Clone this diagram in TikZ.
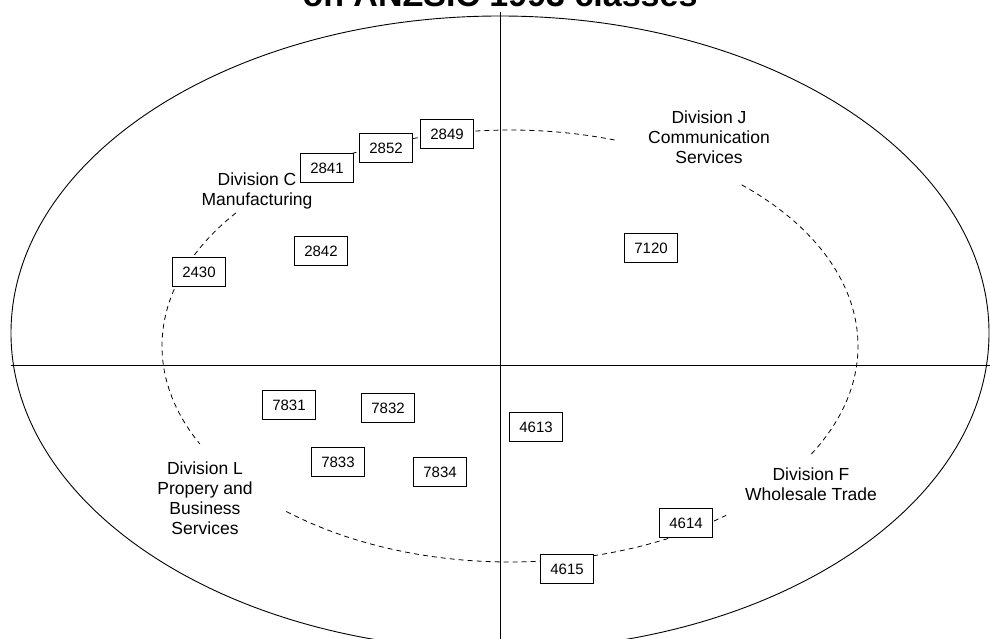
\documentclass[tikz,border=0pt]{standalone}
\usepackage{fontspec}
\setmainfont{Liberation Sans}
\usepackage{tkz-euclide}
\usetikzlibrary{calc}
\tikzset{
  code/.style={draw,fill=white,line width=.9pt,minimum width=53pt,minimum height=29pt,inner sep=0pt,font=\fontsize{15}{18}\selectfont},
  division/.style={align=center,font=\fontsize{17.5}{20}\selectfont},
  track/.style={dash pattern=on 5pt off 4pt,line width=.8pt}
}
\begin{document}
\begin{tikzpicture}[x=1pt,y=-1pt]
            \useasboundingbox (0,0) rectangle (990,639);
            \clip (0,0) rectangle (990,639);
            \tkzDefPoints{500/7/T,500/333/O,510/346/M,11/365/W,990/365/E,500/12/N,500/645/S}
            \tkzDefPoints{199/272/C1,321/251/C2,327/168/C3,386/148/C4,447/134/C5,651/248/J1}
            \tkzDefPoints{289/405/L1,388/408/L2,338/462/L3,440/472/L4,536/427/F1,686/523/F2,567/569/F3}
            \tkzDefPoints{257/191/DC,709/137/DJ,811/484/DF,205/498/DL}
            \node[anchor=base,font=\fontsize{34}{40}\bfseries] (title) at (T) {on ANZSIC 1993 classes};
            \draw[line width=.9pt] (O) ellipse[x radius=489,y radius=317];
            \draw[line width=.9pt] (W) -- (E);
            \draw[line width=.9pt] (N) -- (S);
            \draw[track] ($(M)+(-72.5:348 and 216)$) arc[start angle=-72.5,end angle=-122,x radius=348,y radius=216];
            \draw[track] ($(M)+(-142:348 and 216)$) arc[start angle=-142,end angle=-207,x radius=348,y radius=216];
            \draw[track] ($(M)+(-230:348 and 216)$) arc[start angle=-230,end angle=-308.4,x radius=348,y radius=216];
            \draw[track] ($(M)+(-330:348 and 216)$) arc[start angle=-330,end angle=-408.9,x radius=348,y radius=216];
            \node[code] (c2430) at (C1) {2430};
            \node[code] (c2842) at (C2) {2842};
            \node[code] (c2841) at (C3) {2841};
            \node[code] (c2852) at (C4) {2852};
            \node[code] (c2849) at (C5) {2849};
            \node[code] (j7120) at (J1) {7120};
            \node[code] (l7831) at (L1) {7831};
            \node[code] (l7832) at (L2) {7832};
            \node[code] (l7833) at (L3) {7833};
            \node[code] (l7834) at (L4) {7834};
            \node[code] (f4613) at (F1) {4613};
            \node[code] (f4614) at (F2) {4614};
            \node[code] (f4615) at (F3) {4615};
            \node[division] (divC) at (DC) {Division C\\Manufacturing};
            \node[division] (divJ) at (DJ) {Division J\\Communication\\Services};
            \node[division] (divF) at (DF) {Division F\\Wholesale Trade};
            \node[division] (divL) at (DL) {Division L\\Propery and\\Business\\Services};
        \end{tikzpicture}
\end{document}
